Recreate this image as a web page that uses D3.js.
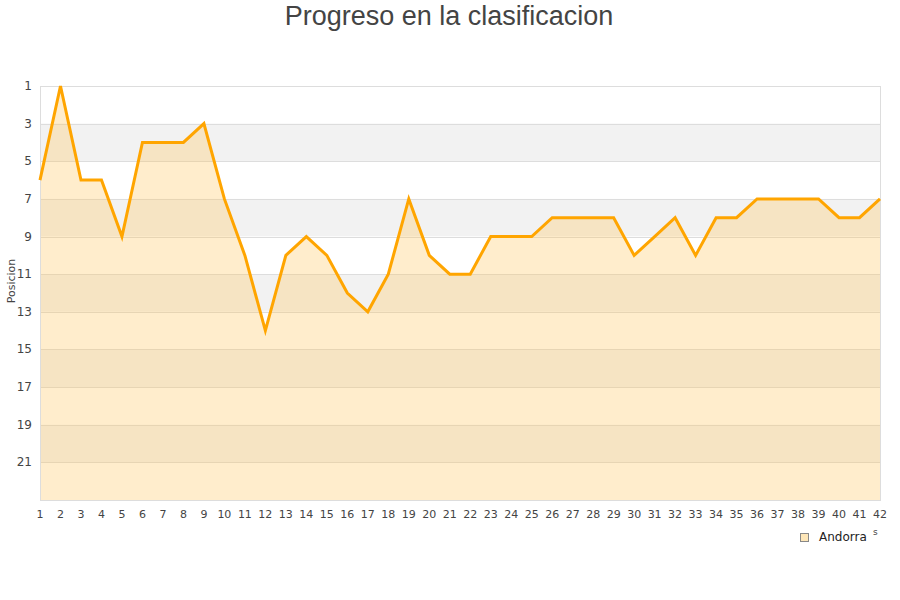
<!DOCTYPE html>
<html>
<head>
<meta charset="utf-8">
<script src="https://cdn.jsdelivr.net/npm/d3@7"></script>
<style>
body { margin:0; background:#fff; }
svg { display:block; }
</style>
</head>
<body>
<div id="chart"></div>
<script>
const title = "Progreso en la clasificacion";
const jornadas = d3.range(1, 43);
const posiciones = [6,1,6,6,9,4,4,4,3,7,10,14,10,9,10,12,13,11,7,10,11,11,9,9,9,8,8,8,8,10,9,8,10,8,8,7,7,7,7,8,8,7];
const yTicks = [1,3,5,7,9,11,13,15,17,19,21];
const seriesName = "Andorra";
const yLabel = "Posicion";

const W = 900, H = 600;
const m = {left:40, right:20, top:86, bottom:100};
const svg = d3.select("#chart").append("svg").attr("width", W).attr("height", H);

const x = d3.scaleLinear().domain([1, 42]).range([40, 880]);
const y = d3.scaleLinear().domain([1, 23]).range([86, 500]);

// bands
const bandStarts = d3.range(1, 23, 2);
svg.append("g").selectAll("rect").data(bandStarts).join("rect")
  .attr("x", x(1)).attr("width", x(42) - x(1))
  .attr("y", d => y(d)).attr("height", d => y(d + 2) - y(d))
  .attr("fill", (d, i) => i % 2 === 1 ? "#f2f2f2" : "#ffffff");

// grid lines
svg.append("g").selectAll("line").data(yTicks.slice(1)).join("line")
  .attr("x1", x(1)).attr("x2", x(42))
  .attr("y1", d => Math.round(y(d)) + 0.5).attr("y2", d => Math.round(y(d)) + 0.5)
  .attr("stroke", "#dddddd").attr("stroke-width", 1);

// area
const area = d3.area().x((d, i) => x(jornadas[i])).y0(y(23)).y1(d => y(d));
svg.append("path").datum(posiciones).attr("d", area)
  .attr("fill", "rgb(255,197,90)").attr("fill-opacity", 0.31);

// frame
svg.append("rect").attr("x", x(1) + 0.5).attr("y", y(1) + 0.5)
  .attr("width", x(42) - x(1)).attr("height", y(23) - y(1))
  .attr("fill", "none").attr("stroke", "#dddddd");

// line
const line = d3.line().x((d, i) => x(jornadas[i])).y(d => y(d));
svg.append("path").datum(posiciones).attr("d", line)
  .attr("fill", "none").attr("stroke", "#ffa500").attr("stroke-width", 3)
  .attr("stroke-linejoin", "miter");

// y axis labels
svg.append("g").selectAll("text").data(yTicks).join("text")
  .attr("x", 32).attr("y", d => y(d) + 4)
  .attr("text-anchor", "end")
  .attr("font-family", "DejaVu Sans, sans-serif").attr("font-size", 12)
  .attr("fill", "#444").text(d => d);

// x axis labels
svg.append("g").selectAll("text").data(jornadas).join("text")
  .attr("x", d => x(d)).attr("y", 518)
  .attr("text-anchor", "middle")
  .attr("font-family", "DejaVu Sans, sans-serif").attr("font-size", 11)
  .attr("fill", "#444").text(d => d);

// y label
svg.append("text").attr("transform", "translate(15,281) rotate(-90)")
  .attr("text-anchor", "middle")
  .attr("font-family", "DejaVu Sans, sans-serif").attr("font-size", 11)
  .attr("fill", "#444").text(yLabel);

// title
svg.append("text").attr("x", 449).attr("y", 25)
  .attr("text-anchor", "middle")
  .attr("font-family", "Liberation Sans, Arial, sans-serif").attr("font-size", 27)
  .attr("fill", "#444").text(title);

// legend
svg.append("rect").attr("x", 800.5).attr("y", 533.5).attr("width", 8).attr("height", 8)
  .attr("fill", "#fde6b8").attr("stroke", "#888");
svg.append("text").attr("x", 819).attr("y", 541)
  .attr("font-family", "DejaVu Sans, sans-serif").attr("font-size", 12)
  .attr("fill", "#222").text(seriesName);
svg.append("text").attr("x", 873).attr("y", 535)
  .attr("font-family", "DejaVu Sans, sans-serif").attr("font-size", 9)
  .attr("fill", "#444").text("s");
</script>
</body>
</html>
